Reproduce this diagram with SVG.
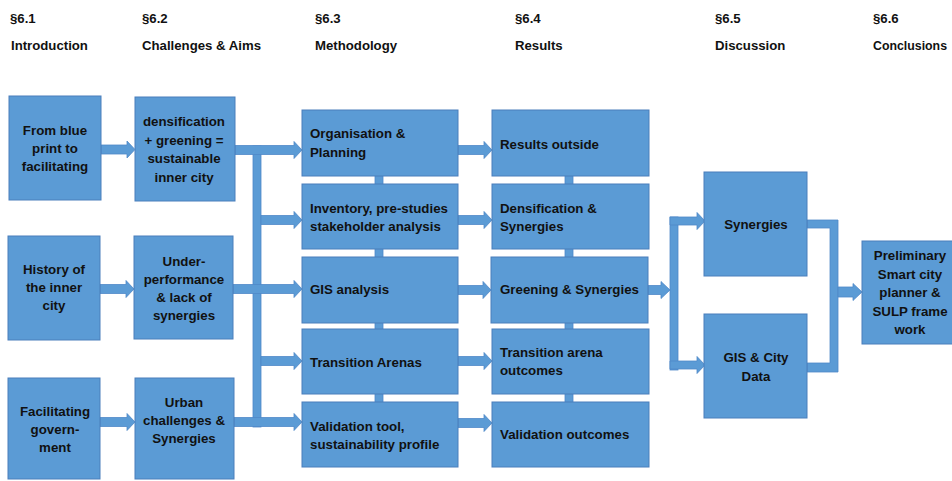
<svg xmlns="http://www.w3.org/2000/svg" width="952" height="481" viewBox="0 0 952 481">
<style>
  .box{fill:#5B9BD5;stroke:#4A7EBB;stroke-width:1}
  .con{fill:#5B9BD5;stroke:#4F88C8;stroke-width:0.8}
  text{font-family:"Liberation Sans",Arial,sans-serif;font-weight:bold;font-size:13.3px;fill:#111}
  .c{text-anchor:middle}
  .h{font-size:13.2px}
</style>
<rect width="952" height="481" fill="#fff"/>
<g id="headers">
  <text class="h" x="10" y="23">§6.1</text>
  <text class="h" x="11" y="50">Introduction</text>
  <text class="h" x="142" y="23">§6.2</text>
  <text class="h" x="142" y="50">Challenges &amp; Aims</text>
  <text class="h" x="315" y="23">§6.3</text>
  <text class="h" x="315" y="50">Methodology</text>
  <text class="h" x="515" y="23">§6.4</text>
  <text class="h" x="515" y="50">Results</text>
  <text class="h" x="715" y="23">§6.5</text>
  <text class="h" x="715" y="50">Discussion</text>
  <text class="h" x="873" y="23">§6.6</text>
  <text class="h" x="873" y="50" textLength="74" lengthAdjust="spacingAndGlyphs">Conclusions</text>
</g>
<g id="connectors">
  <!-- col1 -> col2 -->
  <path class="con" d="M101 145 H127 V141 L135 149.5 L127 158 V154 H101 Z"/>
  <path class="con" d="M100 284.5 H126 V280.5 L134 289 L126 297.5 V293.5 H100 Z"/>
  <path class="con" d="M100 417.5 H127 V413.5 L135 422 L127 430.5 V426.5 H100 Z"/>
  <!-- col2 -> col3 -->
  <rect class="con" x="253" y="146" width="8" height="281"/>
  <path class="con" d="M235 145.5 H294 V141.5 L302 150 L294 158.5 V154.5 H235 Z"/>
  <path class="con" d="M261 215.5 H294 V211.5 L302 220 L294 228.5 V224.5 H261 Z"/>
  <path class="con" d="M233 284.5 H294 V280.5 L302 289 L294 297.5 V293.5 H233 Z"/>
  <path class="con" d="M261 356.5 H294 V352.5 L302 361 L294 369.5 V365.5 H261 Z"/>
  <path class="con" d="M234 417.5 H294 V413.5 L302 422 L294 430.5 V426.5 H234 Z"/>
  <!-- col3 strips -->
  <rect class="con" x="375" y="175" width="8" height="10"/>
  <rect class="con" x="375" y="248" width="8" height="10"/>
  <rect class="con" x="375" y="322" width="8" height="8"/>
  <rect class="con" x="375" y="393" width="8" height="10"/>
  <!-- col3 -> col4 -->
  <path class="con" d="M458 145.5 H484 V141.5 L492 150 L484 158.5 V154.5 H458 Z"/>
  <path class="con" d="M458 215.5 H484 V211.5 L492 220 L484 228.5 V224.5 H458 Z"/>
  <path class="con" d="M458 285.5 H483 V281.5 L491 290 L483 298.5 V294.5 H458 Z"/>
  <path class="con" d="M458 356.5 H484 V352.5 L492 361 L484 369.5 V365.5 H458 Z"/>
  <path class="con" d="M458 418.5 H484 V414.5 L492 423 L484 431.5 V427.5 H458 Z"/>
  <!-- col4 strips -->
  <rect class="con" x="565" y="175" width="8" height="10"/>
  <rect class="con" x="565" y="248" width="8" height="10"/>
  <rect class="con" x="565" y="322" width="8" height="8"/>
  <rect class="con" x="565" y="393" width="8" height="10"/>
  <!-- col4 -> col5 -->
  <path class="con" d="M648 285.5 H661 V281.5 L670 290 L661 298.5 V294.5 H648 Z"/>
  <rect class="con" x="670" y="217" width="8" height="153"/>
  <path class="con" d="M670 217 H697 V212.5 L705 221 L697 229.5 V225 H670 Z"/>
  <path class="con" d="M670 361 H697 V356.5 L705 365 L697 373.5 V369 H670 Z"/>
  <!-- col5 -> conclusion -->
  <path class="con" d="M807 220 H838 V372 H807 V363 H830 V228 H807 Z"/>
  <path class="con" d="M838 287 H853 V283.5 L862 292 L853 300.5 V297 H838 Z"/>
</g>
<g id="n-blueprint">
  <rect class="box" x="9" y="96" width="92" height="104"/>
  <text class="c" x="55" y="135">From blue</text>
  <text class="c" x="55" y="153">print to</text>
  <text class="c" x="55" y="171">facilitating</text>
</g>
<g id="n-history">
  <rect class="box" x="8" y="236" width="92" height="104"/>
  <text class="c" x="54" y="274">History of</text>
  <text class="c" x="54" y="292">the inner</text>
  <text class="c" x="54" y="310">city</text>
</g>
<g id="n-facilitating">
  <rect class="box" x="8" y="378" width="92" height="101"/>
  <text class="c" x="55" y="416">Facilitating</text>
  <text class="c" x="55" y="434">govern-</text>
  <text class="c" x="55" y="452">ment</text>
</g>
<g id="n-densification">
  <rect class="box" x="135" y="97" width="100" height="104"/>
  <text class="c" x="184" y="126">densification</text>
  <text class="c" x="184" y="144.5">+ greening =</text>
  <text class="c" x="184" y="163">sustainable</text>
  <text class="c" x="184" y="181.5">inner city</text>
</g>
<g id="n-under">
  <rect class="box" x="134" y="236" width="99" height="103"/>
  <text class="c" x="184" y="266">Under-</text>
  <text class="c" x="184" y="284">performance</text>
  <text class="c" x="184" y="302">&amp; lack of</text>
  <text class="c" x="184" y="320">synergies</text>
</g>
<g id="n-urban">
  <rect class="box" x="135" y="378" width="99" height="101"/>
  <text class="c" x="184" y="407">Urban</text>
  <text class="c" x="184" y="425">challenges &amp;</text>
  <text class="c" x="184" y="443">Synergies</text>
</g>
<g id="n-organisation">
  <rect class="box" x="302" y="110" width="156" height="66"/>
  <text x="310" y="138">Organisation &amp;</text>
  <text x="310" y="156.5">Planning</text>
</g>
<g id="n-inventory">
  <rect class="box" x="302" y="184" width="156" height="65"/>
  <text x="310" y="213">Inventory, pre-studies</text>
  <text x="310" y="231">stakeholder analysis</text>
</g>
<g id="n-gis">
  <rect class="box" x="302" y="257" width="156" height="66"/>
  <text x="310" y="294">GIS analysis</text>
</g>
<g id="n-transition">
  <rect class="box" x="302" y="329" width="156" height="65"/>
  <text x="310" y="366.5">Transition Arenas</text>
</g>
<g id="n-validation">
  <rect class="box" x="302" y="402" width="156" height="65"/>
  <text x="310" y="431">Validation tool,</text>
  <text x="310" y="449">sustainability profile</text>
</g>
<g id="n-results-outside">
  <rect class="box" x="492" y="110" width="157" height="66"/>
  <text x="500" y="148.5">Results outside</text>
</g>
<g id="n-dens-syn">
  <rect class="box" x="492" y="184" width="157" height="65"/>
  <text x="500" y="212.5">Densification &amp;</text>
  <text x="500" y="230.5">Synergies</text>
</g>
<g id="n-green-syn">
  <rect class="box" x="491" y="257" width="157" height="66"/>
  <text x="500" y="294">Greening &amp; Synergies</text>
</g>
<g id="n-ta-outcomes">
  <rect class="box" x="492" y="329" width="157" height="65"/>
  <text x="500" y="357">Transition arena</text>
  <text x="500" y="375">outcomes</text>
</g>
<g id="n-val-outcomes">
  <rect class="box" x="492" y="402" width="157" height="65"/>
  <text x="500" y="438.5">Validation outcomes</text>
</g>
<g id="n-synergies">
  <rect class="box" x="704" y="172" width="103" height="104"/>
  <text class="c" x="756" y="228.5">Synergies</text>
</g>
<g id="n-gis-city">
  <rect class="box" x="704" y="314" width="103" height="104"/>
  <text class="c" x="756" y="362">GIS &amp; City</text>
  <text class="c" x="756" y="380.5">Data</text>
</g>
<g id="n-preliminary">
  <rect class="box" x="862" y="241" width="100" height="103"/>
  <text class="c" x="910" y="260">Preliminary</text>
  <text class="c" x="910" y="278.5">Smart city</text>
  <text class="c" x="910" y="297">planner &amp;</text>
  <text class="c" x="910" y="315.5">SULP frame</text>
  <text class="c" x="910" y="334">work</text>
</g>
</svg>
